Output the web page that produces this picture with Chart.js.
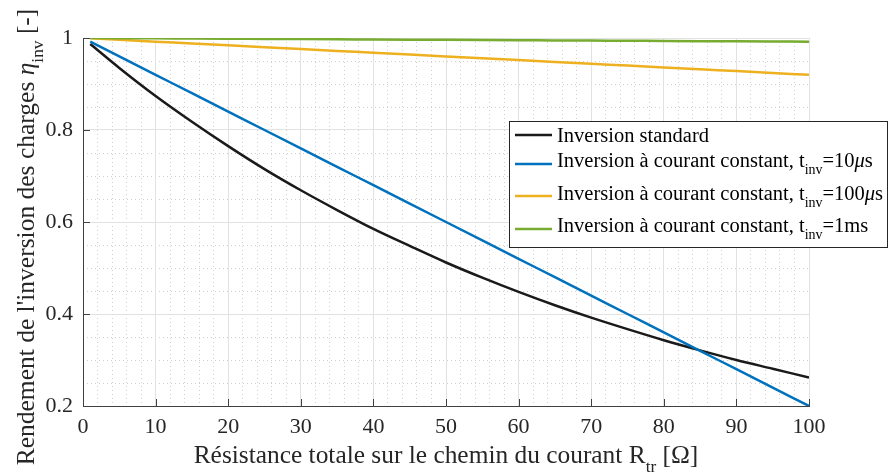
<!DOCTYPE html>
<html><head><meta charset="utf-8">
<script src="https://cdn.jsdelivr.net/npm/chart.js@4/dist/chart.umd.min.js"></script>
<style>html,body{margin:0;padding:0;background:#fff}canvas{display:block}</style>
</head><body>
<canvas id="c" width="891" height="474"></canvas>
<script>
// ---- data ----
const resistance = [1,5,10,15,20,25,30,35,40,45,50,55,60,65,70,75,80,85,90,95,100];
const standard   = [0.987,0.935,0.874,0.818,0.765,0.715,0.669,0.626,0.585,0.548,0.512,0.479,0.448,0.419,0.392,0.367,0.343,0.321,0.300,0.281,0.262];
const cc10us     = [0.992,0.960,0.920,0.880,0.840,0.800,0.760,0.720,0.680,0.640,0.600,0.560,0.520,0.480,0.440,0.400,0.360,0.320,0.280,0.240,0.200];
const cc100us    = [0.9992,0.996,0.992,0.988,0.984,0.980,0.976,0.972,0.968,0.964,0.960,0.956,0.952,0.948,0.944,0.940,0.936,0.932,0.928,0.924,0.920];
const cc1ms      = [0.9999,0.9996,0.9992,0.9988,0.9984,0.998,0.9976,0.9972,0.9968,0.9964,0.996,0.9956,0.9952,0.9948,0.9944,0.994,0.9936,0.9932,0.9928,0.9924,0.992];
const xTicks = [0,10,20,30,40,50,60,70,80,90,100];
const xTickLabels = ['0','10','20','30','40','50','60','70','80','90','100'];
const yTicks = [0.2,0.4,0.6,0.8,1];
const yTickLabels = ['0.2','0.4','0.6','0.8','1'];
const seriesNames = ['Inversion standard','Inversion à courant constant, t','Inversion à courant constant, t','Inversion à courant constant, t'];
const seriesSubs = ['', 'inv', 'inv', 'inv'];
const seriesValue = ['', '=10', '=100', '=1'];
const seriesUnit = ['', 's', 's', 'ms'];
const seriesMu = [false, true, true, false];
const colors = ['#1a1a1a','#0072BD','#EDB120','#77AC30'];

const SERIF = '"Liberation Serif", "Times New Roman", serif';
const pts = arr => resistance.map((x,i)=>({x:x,y:arr[i]}));

function drawRich(ctx, segs, x, y, align, size){
  let total = 0;
  const fonts = segs.map(s=>{
    const sz = s.sub ? size*0.68 : size;
    const f = (s.italic?'italic ':'') + sz + 'px ' + SERIF;
    ctx.font = f; const w = ctx.measureText(s.t).width; total += w;
    return {f, w, dy: s.sub ? size*0.36 : 0};
  });
  let cx = align==='center' ? x - total/2 : x;
  ctx.textAlign = 'left'; ctx.textBaseline = 'alphabetic';
  segs.forEach((s,i)=>{ ctx.font = fonts[i].f; ctx.fillText(s.t, cx, y + fonts[i].dy); cx += fonts[i].w; });
}

const decor = {
  id:'decor',
  afterDatasetsDraw(chart){
    const ctx = chart.ctx, ca = chart.chartArea;
    const xs = chart.scales.x, ys = chart.scales.y;
    ctx.save();
    ctx.strokeStyle = '#404040'; ctx.lineWidth = 1;
    ctx.beginPath();
    xTicks.forEach(v=>{ const px = Math.round(xs.getPixelForValue(v))+0.5; ctx.moveTo(px, ca.bottom); ctx.lineTo(px, ca.bottom-7); });
    yTicks.forEach(v=>{ const py = Math.round(ys.getPixelForValue(v))+0.5; ctx.moveTo(ca.left, py); ctx.lineTo(ca.left+7, py); });
    ctx.stroke();
    ctx.fillStyle = '#262626';
    drawRich(ctx, [{t:'Résistance totale sur le chemin du courant R'},{t:'tr',sub:true},{t:' [\u03A9]'}], 446, 463, 'center', 25.4);
    ctx.save(); ctx.translate(34, 237); ctx.rotate(-Math.PI/2);
    drawRich(ctx, [{t:"Rendement de l'inversion des charges "},{t:'\u03B7',italic:true},{t:'inv',sub:true},{t:' [-]'}], 0, 0, 'center', 25.5);
    ctx.restore();
    // legend
    const L = {x:509.5, y:121.5, w:378, h:126};
    ctx.fillStyle = '#fff'; ctx.fillRect(L.x, L.y, L.w, L.h);
    ctx.strokeStyle = '#262626'; ctx.lineWidth = 1; ctx.strokeRect(L.x, L.y, L.w, L.h);
    const rows = [142, 167, 200, 232];
    const lineY = [135, 164, 196, 229];
    rows.forEach((by,i)=>{
      ctx.strokeStyle = colors[i]; ctx.lineWidth = 2.5;
      ctx.beginPath(); ctx.moveTo(515, lineY[i]); ctx.lineTo(552, lineY[i]); ctx.stroke();
      ctx.fillStyle = '#000';
      const segs = [{t:seriesNames[i]}];
      if (seriesSubs[i]) {
        segs.push({t:seriesSubs[i],sub:true});
        segs.push({t:seriesValue[i]});
        if (seriesMu[i]) segs.push({t:'\u03BC',italic:true});
        segs.push({t:seriesUnit[i]});
      }
      drawRich(ctx, segs, 557, by, 'left', 20.5);
    });
    ctx.restore();
  }
};

const tickFont = {family: SERIF, size: 22};
new Chart(document.getElementById('c'), {
  type:'line',
  data:{ datasets:[
    {label:seriesNames[0], data:pts(standard), borderColor:colors[0], order:4},
    {label:seriesNames[1], data:pts(cc10us), borderColor:colors[1], order:3},
    {label:seriesNames[2], data:pts(cc100us), borderColor:colors[2], order:2},
    {label:seriesNames[3], data:pts(cc1ms), borderColor:colors[3], order:1}
  ].map(d=>Object.assign(d,{borderWidth:2.5, pointRadius:0, fill:false, cubicInterpolationMode:'monotone'}))},
  options:{
    responsive:false, animation:false, devicePixelRatio:1,
    layout:{padding:{top:38, right:82, left:0, bottom:0}},
    plugins:{legend:{display:false}, tooltip:{enabled:false}},
    scales:{
      x2:{type:'linear', position:'bottom', min:0, max:100, ticks:{display:false, stepSize:2},
          grid:{color:'#cfcfcf', drawTicks:false}, border:{display:false, dash:[1,3]},
          afterFit(s){ s.height = 0; }},
      y2:{type:'linear', position:'left', min:0.2, max:1, ticks:{display:false, stepSize:0.05},
          grid:{color:'#cfcfcf', drawTicks:false}, border:{display:false, dash:[1,3]},
          afterFit(s){ s.width = 0; }},
      x:{type:'linear', position:'bottom', min:0, max:100,
         afterBuildTicks(s){ s.ticks = xTicks.map(v=>({value:v})); },
         ticks:{font:tickFont, color:'#262626', padding:8, maxRotation:0, autoSkip:false,
                callback:(v)=>xTickLabels[xTicks.indexOf(v)]},
         grid:{color:'#e2e2e2', drawTicks:false},
         border:{display:true, color:'#404040', width:1},
         afterFit(s){ s.height = 68; }},
      y:{type:'linear', position:'left', min:0.2, max:1,
         afterBuildTicks(s){ s.ticks = yTicks.map(v=>({value:v})); },
         ticks:{font:tickFont, color:'#262626', padding:10, autoSkip:false,
                callback:(v)=>yTickLabels[yTicks.findIndex(t=>Math.abs(t-v)<1e-9)]},
         grid:{color:'#e2e2e2', drawTicks:false},
         border:{display:true, color:'#404040', width:1},
         afterFit(s){ s.width = 83; }}
    }
  },
  plugins:[decor]
});
</script>
</body></html>
